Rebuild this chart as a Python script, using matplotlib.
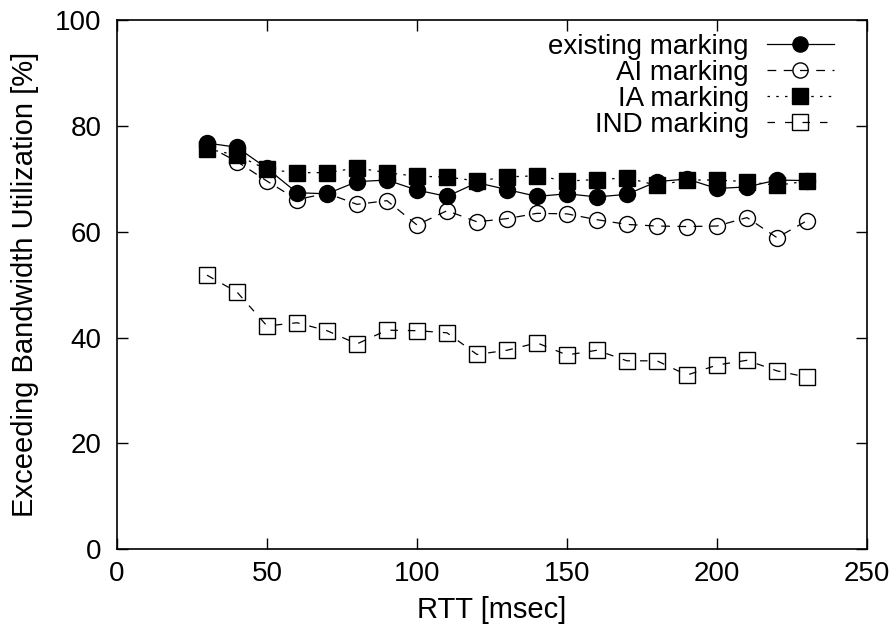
import matplotlib
matplotlib.use("Agg")
import matplotlib.pyplot as plt

plt.rcParams["font.family"] = ["Liberation Sans", "DejaVu Sans"]

rtt = [30, 40, 50, 60, 70, 80, 90, 100, 110, 120, 130,
       140, 150, 160, 170, 180, 190, 200, 210, 220, 230]

existing = [76.8, 76.0, 72.0, 67.4, 67.2, 69.5, 69.8, 67.9, 66.7, 69.3, 68.0,
            66.7, 67.2, 66.6, 67.1, 69.5, 70.0, 68.2, 68.5, 69.8, 69.7]
ai = [76.3, 73.3, 69.6, 66.1, 67.3, 65.2, 65.9, 61.3, 64.0, 61.9, 62.5,
      63.5, 63.4, 62.3, 61.4, 61.1, 61.0, 61.1, 62.7, 58.9, 62.1]
ia = [75.7, 74.5, 71.8, 71.2, 71.2, 72.1, 71.2, 70.5, 70.4, 69.6, 70.4,
      70.6, 69.6, 69.9, 70.2, 68.8, 69.8, 69.8, 69.5, 68.8, 69.6]
ind = [51.8, 48.6, 42.2, 42.8, 41.3, 38.8, 41.4, 41.3, 40.9, 36.8, 37.6,
       39.0, 36.7, 37.6, 35.6, 35.6, 32.9, 34.8, 35.7, 33.7, 32.5]

labels = ["existing marking", "AI marking", "IA marking", "IND marking"]

fs = 20

fig = plt.figure(figsize=(8.96, 6.3), dpi=100)
ax = fig.add_axes([0.1306, 0.1286, 0.837, 0.839])

ms = 11.5
lw = 0.9
ax.plot(rtt, existing, color="black", lw=lw, ls="-", marker="o", ms=ms,
        mfc="black", mec="black", label=labels[0])
ax.plot(rtt, ai, color="black", lw=lw, ls=(0, (7, 6)), marker="o", ms=ms,
        mfc="none", mec="black", mew=1.0, label=labels[1])
ax.plot(rtt, ia, color="black", lw=lw, ls=(0, (2, 5)), marker="s", ms=ms,
        mfc="black", mec="black", label=labels[2])
ax.plot(rtt, ind, color="black", lw=lw, ls=(0, (6, 8)), marker="s", ms=ms,
        mfc="none", mec="black", mew=1.0, label=labels[3])

ax.set_xlim(0, 250)
ax.set_ylim(0, 100)
ax.set_xticks([0, 50, 100, 150, 200, 250])
ax.set_yticks([0, 20, 40, 60, 80, 100])
ax.tick_params(direction="in", length=8, width=1, labelsize=fs,
               top=True, right=True)
ax.tick_params(axis="x", pad=9)
ax.tick_params(axis="y", pad=11)
for s in ax.spines.values():
    s.set_linewidth(1.2)

ax.set_xlabel("RTT [msec]", fontsize=fs + 1, labelpad=6)
ax.set_ylabel("Exceeding Bandwidth Utilization [%]", fontsize=fs + 1,
              labelpad=12)

ax.legend(loc="upper right", bbox_to_anchor=(0.963, 0.985), frameon=False,
          markerfirst=False, fontsize=fs, handlelength=2.4,
          handletextpad=0.65, labelspacing=0.0, markerscale=0.95,
          borderaxespad=0.0, borderpad=0.2)

fig.savefig("out.png", dpi=100, facecolor="white")
